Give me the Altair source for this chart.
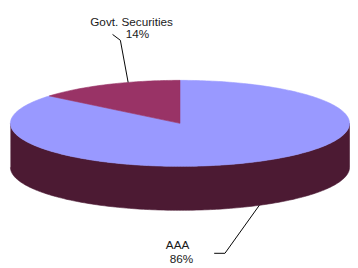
import numpy as np
import pandas as pd
import altair as alt

# ---- data ----
categories = ["AAA", "Govt. Securities"]
values = [86, 14]
top_colors = ["#9999FF", "#993366"]
side_colors = ["#4C1A33", "#5A1E3C"]

# ---- layout (page pixel units) ----
CX, CY = 184.0, 123.0      # ellipse centre
RX, RY = 173.5, 44.0       # ellipse semi-axes
DEPTH = 45.0               # wall height
START = 140.4              # start angle of first slice (deg, ccw from +x)

# label layout: [text line 1, text line 2] positions, leader start/elbow, anchor angle
label_x1 = [181.5, 134.5]
label_y1 = [252, 23]
label_x2 = [185.5, 140.5]
label_y2 = [266, 36]
leader_start_x = [219, 115]
leader_start_y = [256, 32]
leader_elbow_x = [230, 123]
leader_elbow_y = [256, 38]
leader_angle = [297.9, 107.8]
leader_on_bottom = [True, False]


def ex(t):
    return CX + RX * np.cos(np.radians(t))


def ey(t):
    return CY - RY * np.sin(np.radians(t))


tops, sides = [], []
a0 = START
total = float(sum(values))
for k, (cat, v) in enumerate(zip(categories, values)):
    a1 = a0 + 360.0 * v / total
    ts = np.linspace(a0, a1, max(3, int(abs(a1 - a0)) + 2))
    pts = [(CX, CY)] + [(ex(t), ey(t)) for t in ts] + [(CX, CY)]
    for i, (x, y) in enumerate(pts):
        tops.append(dict(poly=f"top{k}", i=i, x=x, y=y, c=top_colors[k]))
    # front wall: portions in (180, 360) mod 360
    for base in (-360.0, 0.0, 360.0):
        lo, hi = max(a0, 180 + base), min(a1, 360 + base)
        if hi > lo:
            tt = np.linspace(lo, hi, max(3, int(hi - lo) + 2))
            wp = [(ex(t), ey(t)) for t in tt] + [(ex(t), ey(t) + DEPTH) for t in tt[::-1]]
            for i, (x, y) in enumerate(wp):
                sides.append(dict(poly=f"side{k}_{base}", i=i, x=x, y=y, c=side_colors[k]))
    a0 = a1

tops = pd.DataFrame(tops)
sides = pd.DataFrame(sides)

texts = []
lead = []
for k, (cat, v) in enumerate(zip(categories, values)):
    texts.append(dict(x=label_x1[k], y=label_y1[k], t=cat))
    texts.append(dict(x=label_x2[k], y=label_y2[k], t=f"{v}%"))
    ax = ex(leader_angle[k])
    ay = ey(leader_angle[k]) + (DEPTH if leader_on_bottom[k] else 0)
    for i, (x, y) in enumerate([(leader_start_x[k], leader_start_y[k]),
                                (leader_elbow_x[k], leader_elbow_y[k]), (ax, ay)]):
        lead.append(dict(g=cat, i=i, x=x, y=y))
texts = pd.DataFrame(texts)
lead = pd.DataFrame(lead)

xs = alt.Scale(domain=[8, 358], nice=False, zero=False)
ys = alt.Scale(domain=[8, 268], nice=False, zero=False, reverse=True)
X = alt.X("x:Q", scale=xs, axis=None)
Y = alt.Y("y:Q", scale=ys, axis=None)


def poly_layer(df):
    return alt.Chart(df).mark_line(strokeWidth=0.6, interpolate="linear").encode(
        x=X, y=Y,
        detail="poly:N",
        order="i:Q",
        fill=alt.Fill("c:N", scale=None),
        stroke=alt.Stroke("c:N", scale=None),
    )


side_layer = poly_layer(sides)
top_layer = poly_layer(tops)

lead_layer = alt.Chart(lead).mark_line(color="#000000", strokeWidth=1).encode(
    x=X, y=Y, detail="g:N", order="i:Q"
)

text_layer = alt.Chart(texts).mark_text(
    font="Liberation Sans", fontSize=12, color="#1a1a1a", align="center", baseline="alphabetic"
).encode(x=X, y=Y, text="t:N")

chart = alt.layer(side_layer, top_layer, lead_layer, text_layer).properties(
    width=350, height=260, padding=0, autosize=alt.AutoSizeParams(type="none"),
    background="#ffffff"
).configure_view(stroke=None)

chart.save("out.html", embed_options={"renderer": "svg", "actions": False})
